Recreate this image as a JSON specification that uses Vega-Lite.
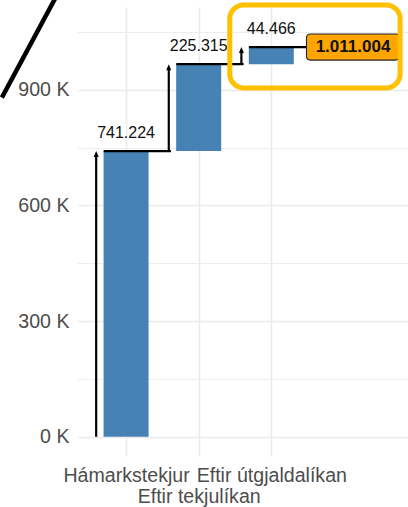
{
  "$schema": "https://vega.github.io/schema/vega-lite/v6.json",
  "width": 331,
  "height": 449,
  "autosize": {"type": "none"},
  "padding": {"left": 77, "top": 7, "right": 0, "bottom": 51},
  "background": "white",
  "config": {
    "view": {"stroke": null},
    "font": "Liberation Sans",
    "locale": {"number": {"decimal": ",", "thousands": ".", "grouping": [3], "currency": ["", " kr."]}},
    "axis": {"domain": false, "ticks": false, "tickSize": 0, "gridColor": "#EBEBEB", "labelColor": "#4D4D4D", "labelFont": "Liberation Sans", "labelFontSize": 19.6}
  },
  "data": {
    "values": [
      {"step": 1, "name": "Hámarkstekjur", "start": 0, "end": 741224, "change": 741224},
      {"step": 2, "name": "Eftir tekjulíkan", "start": 741224, "end": 966539, "change": 225315},
      {"step": 3, "name": "Eftir útgjaldalíkan", "start": 966539, "end": 1011004, "change": 44466}
    ]
  },
  "layer": [
    {
      "mark": {"type": "bar", "width": 45, "color": "#4682B4"},
      "encoding": {
        "x": {
          "field": "step", "type": "quantitative", "title": null,
          "scale": {"domain": [0.393, 4.814], "nice": false, "zero": false},
          "axis": {
            "title": null,
            "values": [1, 2, 3],
            "labelExpr": "datum.value == 1 ? 'Hámarkstekjur' : datum.value == 2 ? ['', 'Eftir tekjulíkan'] : 'Eftir útgjaldalíkan'",
            "labelPadding": 10,
            "labelLineHeight": 21,
            "labelAngle": 0,
            "labelFlush": false,
            "labelOverlap": false,
            "gridWidth": 1.6
          }
        },
        "y": {
          "field": "start", "type": "quantitative", "title": null,
          "scale": {"domain": [-50000, 1115000], "nice": false, "zero": false},
          "axis": {
            "title": null,
            "values": [0, 150000, 300000, 450000, 600000, 750000, 900000, 1050000],
            "labelExpr": "datum.value % 300000 == 0 ? (datum.value / 1000) + ' K' : ''",
            "labelPadding": 8,
            "labelOverlap": false,
            "gridWidth": {"condition": {"test": "datum.value % 300000 == 0", "value": 1.6}, "value": 0.9}
          }
        },
        "y2": {"field": "end"}
      }
    },
    {
      "mark": {"type": "rule", "color": "black", "strokeWidth": 2.2, "xOffset": -22.4, "x2Offset": 44.9},
      "encoding": {
        "x": {"field": "step", "type": "quantitative", "title": null},
        "x2": {"field": "step"},
        "y": {"field": "end", "type": "quantitative", "title": null}
      }
    },
    {
      "mark": {"type": "rule", "color": "black", "strokeWidth": 2.2, "xOffset": -29.9, "y2Offset": 3},
      "encoding": {
        "x": {"field": "step", "type": "quantitative", "title": null},
        "y": {"field": "start", "type": "quantitative", "title": null},
        "y2": {"field": "end"}
      }
    },
    {
      "mark": {"type": "point", "shape": "M0,0L-0.5,1.2L0.5,1.2Z", "size": 100, "filled": true, "color": "black", "opacity": 1, "xOffset": -29.9},
      "encoding": {
        "x": {"field": "step", "type": "quantitative", "title": null},
        "y": {"field": "end", "type": "quantitative", "title": null}
      }
    },
    {
      "mark": {"type": "text", "fontSize": 16, "color": "#111111", "baseline": "alphabetic", "align": "center", "dy": -13},
      "encoding": {
        "x": {"field": "step", "type": "quantitative", "title": null},
        "y": {"field": "end", "type": "quantitative", "title": null},
        "text": {"field": "change", "type": "quantitative", "format": ","}
      }
    },
    {
      "transform": [{"filter": "datum.step == 3"}],
      "mark": {"type": "point", "shape": "M-0.914,-0.28L0.914,-0.28Q1,-0.28 1,-0.194L1,0.194Q1,0.28 0.914,0.28L-0.914,0.28Q-1,0.28 -1,0.194L-1,-0.194Q-1,-0.28 -0.914,-0.28Z", "size": 8649, "filled": true, "fill": "#FFA500", "stroke": "#222222", "strokeWidth": 1.1, "opacity": 1, "xOffset": 81.7},
      "encoding": {
        "x": {"field": "step", "type": "quantitative", "title": null},
        "y": {"field": "end", "type": "quantitative", "title": null}
      }
    },
    {
      "transform": [{"filter": "datum.step == 3"}],
      "mark": {"type": "text", "fontSize": 17, "fontWeight": "bold", "color": "#111111", "baseline": "middle", "align": "center", "dx": 81.7},
      "encoding": {
        "x": {"field": "step", "type": "quantitative", "title": null},
        "y": {"field": "end", "type": "quantitative", "title": null},
        "text": {"field": "end", "type": "quantitative", "format": ","}
      }
    },
    {
      "data": {"values": [{}]},
      "mark": {"type": "rect", "cornerRadius": 14, "fill": "transparent", "stroke": "#FFC000", "strokeWidth": 5},
      "encoding": {
        "x": {"datum": 2.428, "type": "quantitative"},
        "x2": {"datum": 4.774},
        "y": {"datum": 1120300, "type": "quantitative"},
        "y2": {"datum": 905100}
      }
    },
    {
      "data": {"values": [{}]},
      "mark": {"type": "rule", "color": "black", "strokeWidth": 4.5},
      "encoding": {
        "x": {"datum": -0.711, "type": "quantitative"},
        "x2": {"datum": 0.091},
        "y": {"datum": 880000, "type": "quantitative"},
        "y2": {"datum": 1161000}
      }
    }
  ]
}
